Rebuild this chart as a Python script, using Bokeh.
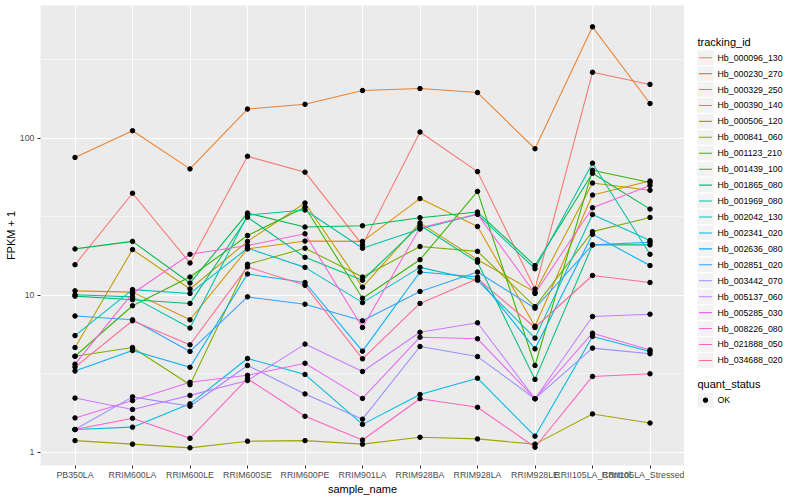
from bokeh.plotting import figure
from bokeh.layouts import row
from bokeh.models import (FactorRange, Range1d, FixedTicker, BasicTickFormatter)
from bokeh.core.properties import value
from bokeh.embed import file_html
from bokeh.resources import INLINE

samples = ["PB350LA", "RRIM600LA", "RRIM600LE", "RRIM600SE", "RRIM600PE",
           "RRIM901LA", "RRIM928BA", "RRIM928LA", "RRIM928LE",
           "RRII105LA_Control", "RRII105LA_Stressed"]

tracking_ids = ["Hb_000096_130", "Hb_000230_270", "Hb_000329_250", "Hb_000390_140",
                "Hb_000506_120", "Hb_000841_060", "Hb_001123_210", "Hb_001439_100",
                "Hb_001865_080", "Hb_001969_080", "Hb_002042_130", "Hb_002341_020",
                "Hb_002636_080", "Hb_002851_020", "Hb_003442_070", "Hb_005137_060",
                "Hb_005285_030", "Hb_008226_080", "Hb_021888_050", "Hb_034688_020"]

colors = ["#F8766D", "#EA8331", "#D89000", "#C09B00", "#A3A500", "#7CAE00",
          "#39B600", "#00BB4E", "#00BF7D", "#00C1A3", "#00BFC4", "#00BAE0",
          "#00B0F6", "#35A2FF", "#9590FF", "#C77CFF", "#E76BF3", "#FA62DB",
          "#FF62BC", "#FF6C91"]

# FPKM + 1 per sample (order of `samples`)
hb_000096_130 = [15.7, 44.8, 16.1, 77, 61, 21, 110, 61.5, 11.0, 264, 221]
hb_000230_270 = [75.7, 112, 64, 154, 165, 202, 208, 196, 86, 514, 167]
hb_000329_250 = [10.7, 10.5, 7.0, 19.8, 22.2, 22.1, 41.4, 27.5, 6.37, 43.6, 53.6]
hb_000390_140 = [4.66, 19.6, 11.0, 22.1, 38.8, 11.3, 29, 16.9, 10.5, 52, 46.8]
hb_000506_120 = [1.19, 1.13, 1.07, 1.18, 1.19, 1.13, 1.25, 1.22, 1.13, 1.76, 1.54]
hb_000841_060 = [4.1, 4.66, 2.7, 15.8, 20, 13.1, 20.5, 19.1, 8.5, 25.5, 31.4]
hb_001123_210 = [4.1, 8.6, 13.1, 24.1, 36.5, 9.6, 16.9, 46, 3.58, 62.7, 52.5]
hb_001439_100 = [19.8, 22.1, 12.0, 33.5, 27.3, 27.8, 31.3, 34, 15.5, 60, 35.5]
hb_001865_080 = [9.9, 9.4, 8.9, 31.5, 17.5, 12.5, 28, 16.3, 2.92, 21, 21]
hb_001969_080 = [10.1, 9.8, 6.2, 32.5, 35, 20, 26.5, 32.9, 14.8, 69.6, 18.3]
hb_002042_130 = [5.55, 10.9, 10.3, 20, 15.1, 9.0, 15.1, 12.5, 5.35, 32.8, 22.4]
hb_002341_020 = [1.4, 1.45, 2.04, 3.97, 3.14, 1.51, 2.34, 2.97, 1.27, 5.48, 4.4]
hb_002636_080 = [3.3, 4.46, 3.49, 13.7, 12.1, 4.42, 14.1, 13.1, 4.57, 24.5, 15.5]
hb_002851_020 = [7.4, 7.0, 4.4, 9.8, 8.8, 6.9, 10.6, 14.1, 8.3, 21, 21.8]
hb_003442_070 = [1.4, 2.26, 1.97, 3.58, 2.36, 1.63, 4.73, 4.08, 2.2, 4.62, 4.25]
hb_005137_060 = [2.22, 1.88, 2.31, 2.87, 4.9, 3.28, 5.83, 6.7, 2.2, 7.34, 7.6]
hb_005285_030 = [1.66, 2.14, 2.8, 3.1, 3.7, 2.21, 5.42, 5.3, 2.2, 5.75, 4.5]
hb_008226_080 = [3.65, 10.3, 18.3, 20.8, 24.7, 6.25, 27, 33, 10.3, 36.2, 50.2]
hb_021888_050 = [1.4, 1.65, 1.23, 2.95, 1.7, 1.2, 2.2, 1.94, 1.08, 3.05, 3.17]
hb_034688_020 = [3.5, 6.9, 4.85, 15.2, 11.6, 3.95, 8.9, 12.8, 6.25, 13.4, 12.1]

series = [hb_000096_130, hb_000230_270, hb_000329_250, hb_000390_140, hb_000506_120,
          hb_000841_060, hb_001123_210, hb_001439_100, hb_001865_080, hb_001969_080,
          hb_002042_130, hb_002341_020, hb_002636_080, hb_002851_020, hb_003442_070,
          hb_005137_060, hb_005285_030, hb_008226_080, hb_021888_050, hb_034688_020]

quant_status = ["OK"]

FONT = "Liberation Sans"

# ---------------- main panel ----------------
p = figure(width=684, height=500,
           x_range=FactorRange(factors=samples, range_padding=0.1,
                               range_padding_units="absolute"),
           y_axis_type="log", y_range=Range1d(0.826, 703),
           output_backend="svg", toolbar_location=None,
           min_border_left=40, min_border_right=0,
           min_border_top=5, min_border_bottom=35)

p.background_fill_color = "#EBEBEB"
p.border_fill_color = "white"
p.outline_line_color = None

ticker = FixedTicker(ticks=[1, 10, 100], minor_ticks=[3.1623, 31.623, 316.23])
p.yaxis.ticker = ticker
p.ygrid.ticker = ticker
p.yaxis.formatter = BasicTickFormatter(use_scientific=False)

p.xgrid.grid_line_color = "white"
p.xgrid.grid_line_width = 1.07
p.ygrid.grid_line_color = "white"
p.ygrid.grid_line_width = 1.07
p.ygrid.minor_grid_line_color = "white"
p.ygrid.minor_grid_line_width = 0.53

for ax in (p.xaxis, p.yaxis):
    ax.axis_line_color = None
    ax.major_tick_line_color = "#333333"
    ax.major_tick_out = 3
    ax.major_tick_in = 0
    ax.minor_tick_line_color = None
    ax.major_label_text_font = FONT
    ax.major_label_text_font_size = "8.8px"
    ax.major_label_text_color = "#4D4D4D"
    ax.axis_label_text_font = FONT
    ax.axis_label_text_font_size = "11px"
    ax.axis_label_text_font_style = "normal"
    ax.axis_label_text_color = "black"

p.xaxis.major_label_standoff = 1
p.xaxis.axis_label_standoff = 0
p.yaxis.major_label_standoff = 2
p.yaxis.axis_label_standoff = 0

p.xaxis.axis_label = "sample_name"
p.yaxis.axis_label = "FPKM + 1"

for col, vals in zip(colors, series):
    p.line(samples, vals, line_color=col, line_width=1.07)

all_x = [s for vals in series for s in samples]
all_y = [v for vals in series for v in vals]
p.scatter(all_x, all_y, marker="circle", size=4.5, fill_color="black",
          line_color="black")

# ---------------- legend panel (pixel coordinates) ----------------
L0, LW, LH = 684, 116, 500
lg = figure(width=LW, height=LH, x_range=Range1d(L0, L0 + LW),
            y_range=Range1d(LH, 0), output_backend="svg", toolbar_location=None,
            min_border=0, x_axis_location=None, y_axis_location=None)
lg.grid.visible = False
lg.outline_line_color = None
lg.background_fill_color = "white"
lg.border_fill_color = "white"

key_x = 705
row0, row_h = 56.7, 17.32
ys = [row0 + i * row_h for i in range(len(tracking_ids))]

lg.text(x=[697], y=[40], text=["tracking_id"], text_font=value(FONT),
        text_font_size=value("11px"), text_color="black",
        text_baseline="middle", text_align="left")
lg.rect(x=[key_x] * len(ys), y=ys, width=17, height=17,
        fill_color="#F2F2F2", line_color="white", line_width=1)
lg.segment(x0=[698.5] * len(ys), y0=ys, x1=[711.5] * len(ys), y1=ys,
           line_color=colors, line_width=1.07)
lg.text(x=[717] * len(ys), y=ys, text=tracking_ids, text_font=value(FONT),
        text_font_size=value("8.8px"), text_color="black",
        text_baseline="middle", text_align="left")

ok_y = 429
lg.text(x=[697], y=[411.5], text=["quant_status"], text_font=value(FONT),
        text_font_size=value("11px"), text_color="black",
        text_baseline="middle", text_align="left")
lg.rect(x=[key_x], y=[ok_y], width=17, height=17,
        fill_color="#F2F2F2", line_color="white", line_width=1)
lg.scatter(x=[key_x], y=[ok_y], marker="circle", size=4.5,
           fill_color="black", line_color="black")
lg.text(x=[717], y=[ok_y], text=quant_status, text_font=value(FONT),
        text_font_size=value("8.8px"), text_color="black",
        text_baseline="middle", text_align="left")

layout = row(p, lg)
open("out.html", "w").write(file_html(layout, INLINE))
